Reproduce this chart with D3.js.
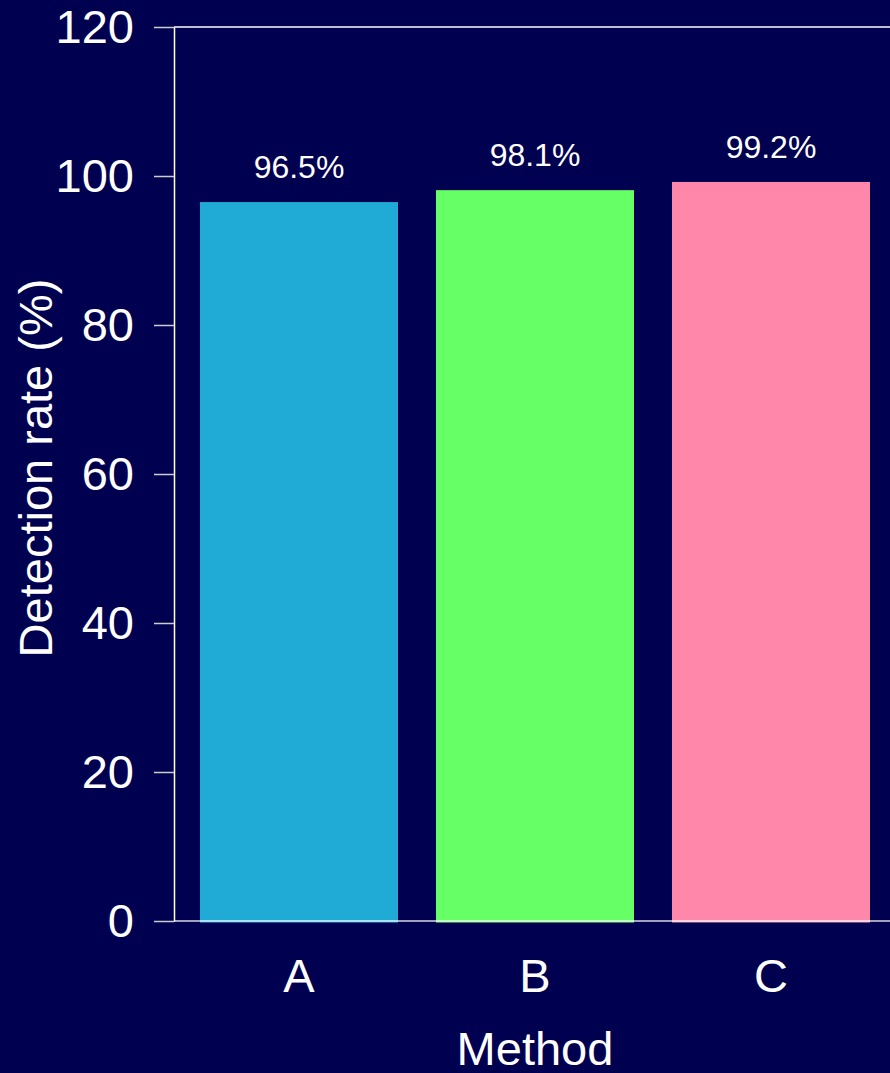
<!DOCTYPE html>
<html>
<head>
<meta charset="utf-8">
<script src="https://cdn.jsdelivr.net/npm/d3@7/dist/d3.min.js"></script>
<style>
  html, body { margin: 0; padding: 0; background: #000050; }
  svg { display: block; }
</style>
</head>
<body>
<svg id="chart" width="890" height="1073"></svg>
<script>
const categories = ["A", "B", "C"];
const values = [96.5, 98.1, 99.2];
const valueLabels = ["96.5%", "98.1%", "99.2%"];
const barColors = ["#1FABD5", "#66FF66", "#FF88AA"];
const yTicks = [0, 20, 40, 60, 80, 100, 120];
const yTitle = "Detection rate (%)";
const xTitle = "Method";

(function () {
const W = 890, H = 1073;
const mLeft = 174, mRight = 896, mTop = 27, mBottom = 921;
const font = "'Liberation Sans', Arial, Helvetica, sans-serif";

const svg = d3.select("#chart");
svg.append("rect").attr("width", W).attr("height", H).attr("fill", "#000050");

const x = d3.scaleBand().domain(categories).range([mLeft, mRight])
  .paddingInner(38 / 236).paddingOuter(26 / 236);
const y = d3.scaleLinear().domain([0, 120]).range([mBottom, mTop]);

// bars
svg.append("g").selectAll("rect").data(categories).join("rect")
  .attr("x", d => x(d))
  .attr("width", x.bandwidth())
  .attr("y", (d, i) => y(values[i]))
  .attr("height", (d, i) => y(0) - y(values[i]) + 1.5)
  .attr("fill", (d, i) => barColors[i]);

// value labels
svg.append("g").selectAll("text").data(categories).join("text")
  .attr("x", d => x(d) + x.bandwidth() / 2)
  .attr("y", (d, i) => y(values[i]) - 24)
  .attr("text-anchor", "middle")
  .attr("fill", "#ffffff")
  .attr("font-family", font)
  .attr("font-size", 32)
  .text((d, i) => valueLabels[i]);

// frame lines
svg.append("line").attr("x1", mLeft).attr("x2", mRight)
  .attr("y1", y(120)).attr("y2", y(120))
  .attr("stroke", "#ffffff").attr("stroke-width", 1.5);
svg.append("line").attr("x1", mLeft).attr("x2", mRight)
  .attr("y1", y(0)).attr("y2", y(0))
  .attr("stroke", "#ffffff").attr("stroke-opacity", 0.85).attr("stroke-width", 1.5);

// y axis
const yAxis = svg.append("g").attr("transform", `translate(${mLeft},0)`)
  .call(d3.axisLeft(y).tickValues(yTicks).tickSize(20).tickSizeOuter(0).tickPadding(20));
yAxis.select(".domain").attr("stroke", "#ffffff").attr("stroke-width", 1.5);
yAxis.selectAll(".tick line").attr("stroke", "#cccccc").attr("stroke-width", 1.5);
yAxis.selectAll(".tick text")
  .attr("fill", "#ffffff")
  .attr("font-family", font)
  .attr("font-size", 47);

// x axis
const xAxis = svg.append("g").attr("transform", `translate(0,${y(0)})`)
  .call(d3.axisBottom(x).tickSize(0).tickPadding(38));
xAxis.select(".domain").remove();
xAxis.selectAll(".tick text")
  .attr("fill", "#ffffff")
  .attr("font-family", font)
  .attr("font-size", 47);

// titles
svg.append("text")
  .attr("transform", `translate(52,${(mTop + mBottom) / 2 - 6}) rotate(-90)`)
  .attr("text-anchor", "middle")
  .attr("fill", "#ffffff")
  .attr("font-family", font)
  .attr("font-size", 47)
  .text(yTitle);

svg.append("text")
  .attr("x", (mLeft + mRight) / 2)
  .attr("y", 1065)
  .attr("text-anchor", "middle")
  .attr("fill", "#ffffff")
  .attr("font-family", font)
  .attr("font-size", 47)
  .text(xTitle);
})();
</script>
</body>
</html>
